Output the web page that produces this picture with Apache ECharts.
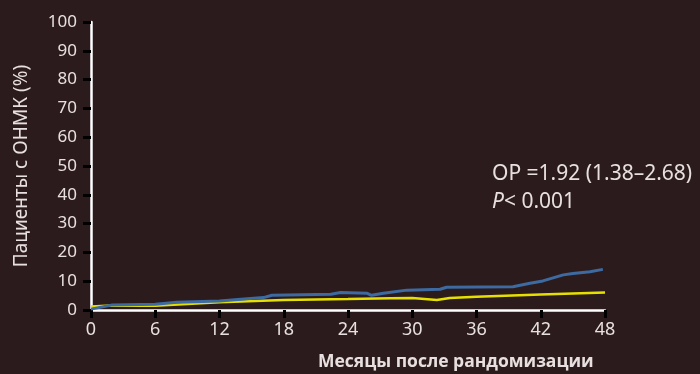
<!DOCTYPE html>
<html>
<head>
<meta charset="utf-8">
<script src="https://cdn.jsdelivr.net/npm/echarts@6/dist/echarts.min.js"></script>
<style>
  html, body { margin: 0; padding: 0; background: #2c1b1c; }
  #chart { width: 700px; height: 374px; }
</style>
</head>
<body>
<div id="chart"></div>
<script>
// Cumulative stroke incidence by months after randomisation
const monthTicks = [0, 6, 12, 18, 24, 30, 36, 42, 48];
const percentTicks = [0, 10, 20, 30, 40, 50, 60, 70, 80, 90, 100];

const blueMonths = [0, 1.9, 6, 8, 12, 14.3, 16.1, 16.9, 22.4, 23.3, 25.8, 26.2, 27.3, 29.5, 32.6, 33.2, 39.4, 41, 42.2, 44.1, 45, 46.6, 47.8];
const blueValues = [0.3, 1.7, 2.0, 2.7, 3.1, 3.8, 4.3, 5.1, 5.5, 6.1, 5.8, 5.1, 5.8, 6.9, 7.2, 7.9, 8.1, 9.3, 10.1, 12.2, 12.7, 13.3, 14.1];

const yellowMonths = [0, 1.9, 6, 12, 18, 24, 28, 30, 32.3, 33.5, 36, 42, 48];
const yellowValues = [1.2, 1.6, 1.5, 2.7, 3.5, 3.8, 4.1, 4.2, 3.5, 4.2, 4.6, 5.4, 6.1];

const annotationLines = ['OP =1.92 (1.38–2.68)', '< 0.001'];
const xTitle = 'Месяцы после рандомизации';
const yTitle = 'Пациенты с ОНМК (%)';

const pairs = (xs, ys) => xs.map((x, i) => [x, ys[i]]);

const textColor = '#e8e0e0';
const font = 'Noto Sans';

const chart = echarts.init(document.getElementById('chart'), null, { renderer: 'canvas' });
chart.setOption({
  backgroundColor: '#2c1b1c',
  animation: false,
  grid: { left: 91, right: 95, top: 22, bottom: 64 },
  xAxis: {
    type: 'value',
    min: monthTicks[0],
    max: monthTicks[monthTicks.length - 1],
    interval: 6,
    axisLine: { lineStyle: { color: '#ffffff', width: 2.5 } },
    axisTick: { show: true, length: 8, lineStyle: { color: '#000000', width: 3 } },
    axisLabel: { color: textColor, fontSize: 18, fontFamily: font, margin: 11 },
    splitLine: { show: false }
  },
  yAxis: {
    type: 'value',
    min: percentTicks[0],
    max: percentTicks[percentTicks.length - 1],
    interval: 10,
    name: yTitle,
    nameLocation: 'middle',
    nameGap: 60,
    nameTextStyle: { color: textColor, fontSize: 19, fontFamily: font },
    axisLine: { lineStyle: { color: '#ffffff', width: 2.5 } },
    axisTick: { show: true, length: 8, lineStyle: { color: '#000000', width: 3 } },
    axisLabel: { color: textColor, fontSize: 17, fontFamily: font, margin: 14 },
    splitLine: { show: false }
  },
  series: [
    {
      type: 'line',
      data: pairs(yellowMonths, yellowValues),
      showSymbol: false,
      lineStyle: { color: '#e6e000', width: 2.5 },
      z: 2
    },
    {
      type: 'line',
      data: pairs(blueMonths, blueValues),
      showSymbol: false,
      lineStyle: { color: '#3d6aa0', width: 3 },
      z: 3
    }
  ],
  graphic: [
    {
      type: 'text',
      left: 318,
      top: 353,
      style: {
        text: xTitle,
        fill: textColor,
        font: 'bold 17.5px "Open Sans"'
      }
    },
    {
      type: 'text',
      left: 492,
      top: 160,
      style: {
        text: annotationLines[0] + '\n{i|P}{a|' + annotationLines[1] + '}',
        fill: textColor,
        fontSize: 21,
        fontFamily: font,
        lineHeight: 28,
        rich: {
          i: { fontStyle: 'italic', fontSize: 21, fontFamily: font, fill: textColor, lineHeight: 28 },
          a: { fontSize: 21, fontFamily: font, fill: textColor, lineHeight: 28 }
        }
      }
    }
  ]
});
</script>
</body>
</html>
